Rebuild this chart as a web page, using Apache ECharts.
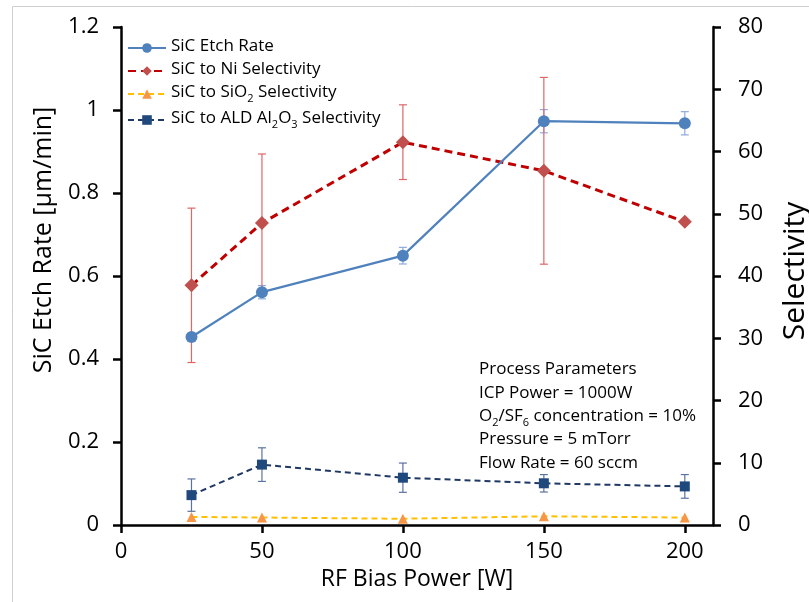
<!DOCTYPE html>
<html><head><meta charset="utf-8">
<script src="https://cdn.jsdelivr.net/npm/echarts@6/dist/echarts.min.js"></script>
<style>html,body{margin:0;padding:0;background:#fff}#c{width:809px;height:602px}</style>
</head><body><div id="c"></div>
<script>
const rfBias = [25, 50, 100, 150, 200];
const etchRate = [0.453, 0.561, 0.649, 0.973, 0.968];
const etchRateErr = [0.008, 0.016, 0.02, 0.028, 0.028];
const niSel = [38.5, 48.5, 61.5, 56.9, 48.7];
const niSelErr = [12.4, 11.1, 6.0, 15.0, 0];
const sio2Sel = [1.3, 1.2, 1.0, 1.4, 1.2];
const al2o3Sel = [4.8, 9.7, 7.6, 6.7, 6.2];
const al2o3SelErr = [2.6, 2.7, 2.35, 1.4, 1.9];
const xTickValues = [0, 50, 100, 150, 200];
const seriesNames = ['SiC Etch Rate', 'SiC to Ni Selectivity', 'SiC to SiO2 Selectivity', 'SiC to ALD Al2O3 Selectivity'];
const leftAxisName = 'SiC Etch Rate [µm/min]';
const annotationLines = ['Process Parameters', 'ICP Power = 1000W', '{n|O}{s|2}{n|/SF}{s|6}{n| concentration = 10%}', 'Pressure = 5 mTorr', 'Flow Rate = 60 sccm'];

const FONT = 'Open Sans';
const chart = echarts.init(document.getElementById('c'));

function pts(xs, ys) { return xs.map((x, i) => [x, ys[i]]); }
function errData(xs, ys, es) { return xs.map((x, i) => [x, ys[i] - es[i], ys[i] + es[i]]); }

function errSeries(name, yAxisIndex, data, color, cap) {
  return {
    type: 'custom', name: name + ' err', yAxisIndex, z: 1, silent: true,
    data,
    renderItem: function (params, api) {
      const x = api.value(0);
      const lo = api.coord([x, api.value(1)]);
      const hi = api.coord([x, api.value(2)]);
      if (Math.abs(lo[1] - hi[1]) < 1) return null;
      const st = { stroke: color, lineWidth: 1.2 };
      return {
        type: 'group', children: [
          { type: 'line', shape: { x1: lo[0], y1: lo[1], x2: hi[0], y2: hi[1] }, style: st },
          { type: 'line', shape: { x1: lo[0] - cap, y1: lo[1], x2: lo[0] + cap, y2: lo[1] }, style: st },
          { type: 'line', shape: { x1: hi[0] - cap, y1: hi[1], x2: hi[0] + cap, y2: hi[1] }, style: st }
        ]
      };
    }
  };
}

const legendRich = {
  n: { fontFamily: FONT, fontSize: 17, color: '#000', verticalAlign: 'bottom', padding: [0, 0, 3, 0] },
  s: { fontFamily: FONT, fontSize: 11, color: '#000', verticalAlign: 'bottom' }
};
function legendFmt(name) {
  if (name === seriesNames[2]) return '{n|SiC to SiO}{s|2}{n| Selectivity}';
  if (name === seriesNames[3]) return '{n|SiC to ALD Al}{s|2}{n|O}{s|3}{n| Selectivity}';
  return '{n|' + name + '}';
}

const axisLineStyle = { color: '#000', width: 2.5 };
const option = {
  backgroundColor: '#fff',
  animation: false,
  textStyle: { fontFamily: FONT },
  grid: { left: 121, right: 96, top: 27, bottom: 77, containLabel: false, outerBoundsMode: 'none' },
  legend: {
    orient: 'vertical', left: 122, top: 33, itemWidth: 38, itemHeight: 12, itemGap: 6,
    data: seriesNames, formatter: legendFmt,
    textStyle: { rich: legendRich, fontFamily: FONT, fontSize: 17, color: '#000' }
  },
  xAxis: {
    type: 'value', min: 0, max: 210, interval: 50,
    name: 'RF Bias Power [W]', nameLocation: 'middle', nameGap: 42,
    nameTextStyle: { fontFamily: FONT, fontSize: 23, color: '#000' },
    axisLine: { show: true, lineStyle: axisLineStyle },
    axisTick: { show: true, length: 8, lineStyle: { color: '#000', width: 2.5 }, customValues: xTickValues },
    axisLabel: { fontFamily: FONT, fontSize: 22, color: '#000', margin: 16, customValues: xTickValues },
    splitLine: { show: false }
  },
  yAxis: [
    {
      type: 'value', min: 0, max: 1.2, interval: 0.2, position: 'left',
      axisLine: { show: true, lineStyle: axisLineStyle },
      axisTick: { show: true, length: 8, lineStyle: { color: '#000', width: 2.5 } },
      axisLabel: { fontFamily: FONT, fontSize: 22, color: '#000', margin: 22 },
      splitLine: { show: false }
    },
    {
      type: 'value', min: 0, max: 80, interval: 10, position: 'right',
      name: 'Selectivity', nameLocation: 'middle', nameGap: 67,
      nameTextStyle: { fontFamily: FONT, fontSize: 30, color: '#000', padding: [0, 0, 0, 10] },
      axisLine: { show: true, lineStyle: axisLineStyle },
      axisTick: { show: true, length: 8, lineStyle: { color: '#000', width: 2.5 } },
      axisLabel: { fontFamily: FONT, fontSize: 22, color: '#000', margin: 25 },
      splitLine: { show: false }
    }
  ],
  graphic: [
    { type: 'rect', shape: { x: 12.5, y: 6.5, width: 900, height: 700 }, style: { fill: 'none', stroke: '#cfcfcf', lineWidth: 1 }, z: -10 },
    {
      type: 'text', x: 44, y: 240, rotation: Math.PI / 2, z: 100,
      style: { text: leftAxisName, fontFamily: FONT, fontSize: 25, fill: '#000', align: 'center', verticalAlign: 'middle' }
    },
    {
      type: 'text', left: 479, top: 361, z: 100,
      style: {
        text: annotationLines.map((l, i) => i === 2 ? l : '{n|' + l + '}').join('\n'),
        fontFamily: FONT, fontSize: 17, fill: '#000',
        rich: {
          n: { fontFamily: FONT, fontSize: 17, fill: '#000', lineHeight: 23.3, verticalAlign: 'bottom', padding: [0, 0, 4, 0] },
          s: { fontFamily: FONT, fontSize: 11, fill: '#000', lineHeight: 23.3, verticalAlign: 'bottom' }
        }
      }
    }
  ],
  series: [
    errSeries(seriesNames[0], 0, errData(rfBias, etchRate, etchRateErr), '#8faadc', 4),
    errSeries(seriesNames[1], 1, errData(rfBias, niSel, niSelErr), '#e06666', 4),
    errSeries(seriesNames[3], 1, errData(rfBias, al2o3Sel, al2o3SelErr), '#5b73a0', 4),
    {
      name: seriesNames[0], type: 'line', yAxisIndex: 0, z: 5,
      data: pts(rfBias, etchRate),
      symbol: 'circle', symbolSize: 12,
      lineStyle: { color: '#4f81bd', width: 2.2 },
      itemStyle: { color: '#4f81bd' }
    },
    {
      name: seriesNames[1], type: 'line', yAxisIndex: 1, z: 4,
      data: pts(rfBias, niSel),
      symbol: 'diamond', symbolSize: 14,
      lineStyle: { color: '#c00000', width: 3, type: [8, 5] },
      itemStyle: { color: '#c0504d' }
    },
    {
      name: seriesNames[2], type: 'line', yAxisIndex: 1, z: 4,
      data: pts(rfBias, sio2Sel),
      symbol: 'triangle', symbolSize: 10,
      lineStyle: { color: '#ffc000', width: 2, type: [6, 4] },
      itemStyle: { color: '#f79646' }
    },
    {
      name: seriesNames[3], type: 'line', yAxisIndex: 1, z: 4,
      data: pts(rfBias, al2o3Sel),
      symbol: 'rect', symbolSize: 10,
      lineStyle: { color: '#1f3864', width: 2, type: [6, 4] },
      itemStyle: { color: '#1f497d' }
    }
  ]
};
chart.setOption(option);
</script>
</body></html>
